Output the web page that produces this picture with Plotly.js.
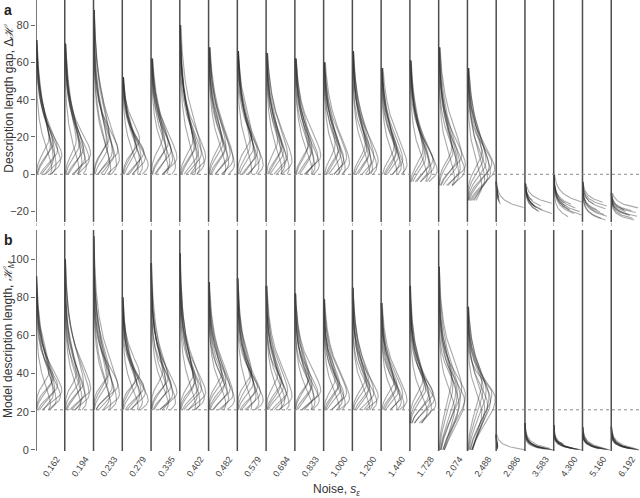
<!DOCTYPE html>
<html>
<head>
<meta charset="utf-8">
<script src="https://cdn.plot.ly/plotly-3.0.1.min.js"></script>
<style>
  body { margin: 0; background: #fff; }
  #chart { width: 640px; height: 498px; }
</style>
</head>
<body>
<div id="chart"></div>
<script>
var noise = ["0.162", "0.194", "0.233", "0.279", "0.335", "0.402", "0.482", "0.579", "0.694", "0.833", "1.000",
  "1.200", "1.440", "1.728", "2.074", "2.488", "2.986", "3.583", "4.300", "5.160", "6.192"];

// panel a - description length gap, one density curve per run
// lo/hi: value range of the curves, left: lower spread (0 = curve cut at its mode)
// modes: where each curve peaks, peaks: its width (in column widths), reach: where it falls to 10%
var gapLo = [0, 0, 0, 0, 0, 0, 0, 0, 0, 0, 0, 0, 0, -4, -6, -14, 0, 0, 0, 0, 0];
var gapHi = [72, 70, 88, 52, 62, 80, 68, 66, 65, 62, 60, 66, 57, 61, 68, 57, -4, -5, 0, -4, -10];
var gapLeft = [7, 7, 7, 7, 7, 7, 7, 7, 7, 7, 7, 7, 7, 7, 7, 8, 0, 0, 0, 0, 0];
var gapModes = [
  [3, 5, 7, 8, 10, 11, 13, 15, 17, 19],
  [2, 4, 6, 8, 9, 11, 12, 14, 16, 18],
  [3, 5, 6, 8, 10, 12, 13, 15, 18, 20],
  [2, 4, 5, 7, 9, 10, 12, 14, 16, 19],
  [3, 4, 6, 8, 9, 11, 13, 15, 17, 20],
  [2, 4, 6, 7, 9, 11, 12, 14, 16, 18],
  [3, 5, 6, 8, 10, 11, 13, 15, 17, 19],
  [2, 4, 5, 7, 9, 10, 12, 14, 16, 21],
  [2, 3, 5, 7, 8, 10, 12, 13, 15, 18],
  [2, 4, 5, 7, 9, 10, 11, 13, 15, 17],
  [1, 3, 5, 6, 8, 9, 11, 12, 14, 16],
  [1, 3, 4, 6, 7, 9, 10, 12, 14, 16],
  [1, 2, 4, 5, 7, 8, 10, 11, 13, 15],
  [-1, 1, 2, 4, 5, 6, 8, 9, 11, 13],
  [-2, 0, 2, 3, 5, 6, 8, 10, 12, 14],
  [-6, -3, -1, 1, 3, 4, 6, 7, 9, 12],
  [-17.8, -14, -12, -10, -13, -11, -15, -9, -12.5, -16],
  [-15.5, -21, -17, -19, -18, -20, -16.5, -19.5, -17.5, -14],
  [-14.8, -16, -18, -20, -21.8, -22.7, -17, -19, -15.5, -21],
  [-15, -17, -18.5, -20, -21.5, -22.5, -24.5, -19, -23.5, -16],
  [-18, -19.5, -20.5, -21.5, -22.5, -23.5, -24.5, -20, -22, -19]
];
var gapPeaks = [
  [0.55, 0.7, 0.85, 0.6, 0.9, 0.65, 0.75, 0.5, 0.6, 0.45],
  [0.5, 0.75, 0.6, 0.85, 0.7, 0.9, 0.55, 0.65, 0.5, 0.4],
  [0.6, 0.8, 0.55, 0.9, 0.7, 0.65, 0.85, 0.5, 0.45, 0.55],
  [0.55, 0.7, 0.9, 0.6, 0.8, 0.65, 0.75, 0.5, 0.45, 0.6],
  [0.6, 0.85, 0.65, 0.75, 0.9, 0.55, 0.7, 0.5, 0.6, 0.4],
  [0.55, 0.7, 0.85, 0.6, 0.9, 0.75, 0.65, 0.5, 0.55, 0.45],
  [0.6, 0.9, 0.7, 0.85, 0.65, 0.75, 0.55, 0.6, 0.5, 0.45],
  [0.5, 0.75, 0.9, 0.65, 0.8, 0.6, 0.7, 0.55, 0.45, 0.5],
  [0.55, 0.8, 0.65, 0.9, 0.7, 0.75, 0.6, 0.5, 0.55, 0.4],
  [0.6, 0.7, 0.85, 0.65, 0.8, 0.9, 0.55, 0.6, 0.45, 0.5],
  [0.55, 0.75, 0.65, 0.9, 0.7, 0.8, 0.6, 0.5, 0.55, 0.4],
  [0.6, 0.7, 0.85, 0.65, 0.9, 0.75, 0.55, 0.6, 0.5, 0.45],
  [0.55, 0.8, 0.7, 0.9, 0.65, 0.75, 0.6, 0.5, 0.55, 0.45],
  [0.6, 0.75, 0.95, 0.7, 0.85, 0.65, 0.8, 0.55, 0.5, 0.45],
  [0.55, 0.7, 0.9, 0.75, 0.93, 0.65, 0.6, 0.8, 0.5, 0.45],
  [0.5, 0.6, 0.7, 0.8, 0.95, 0.75, 0.85, 0.65, 0.55, 0.5],
  [0.95, 0.1, 0.08, 0.06, 0.1, 0.07, 0.12, 0.05, 0.09, 0.15],
  [0.93, 0.93, 0.55, 0.6, 0.4, 0.5, 0.3, 0.45, 0.35, 0.25],
  [0.97, 0.6, 0.75, 0.9, 0.97, 0.5, 0.4, 0.55, 0.35, 0.7],
  [0.7, 0.85, 0.8, 0.6, 0.75, 0.85, 0.8, 0.5, 0.65, 0.4],
  [0.93, 0.7, 0.85, 0.6, 0.9, 0.75, 0.8, 0.5, 0.65, 0.45]
];
var gapReach = [
  [38, 55, 48, 62, 45, 58, 52, 66, 50, 60],
  [40, 52, 60, 45, 56, 48, 64, 50, 58, 55],
  [45, 58, 50, 66, 54, 70, 48, 62, 60, 75],
  [34, 42, 38, 48, 40, 45, 36, 50, 44, 46],
  [40, 52, 46, 58, 50, 55, 44, 60, 48, 56],
  [44, 56, 50, 64, 52, 68, 48, 60, 58, 62],
  [42, 54, 48, 60, 50, 57, 46, 62, 52, 58],
  [40, 52, 46, 58, 50, 56, 44, 60, 54, 62],
  [40, 50, 46, 56, 48, 58, 44, 60, 52, 55],
  [38, 50, 44, 55, 47, 52, 42, 58, 50, 54],
  [36, 48, 42, 54, 45, 50, 40, 56, 48, 52],
  [38, 50, 44, 57, 47, 55, 42, 60, 52, 54],
  [35, 46, 40, 52, 44, 48, 38, 54, 46, 50],
  [34, 46, 40, 54, 44, 50, 38, 55, 48, 52],
  [36, 50, 42, 58, 46, 55, 40, 60, 52, 56],
  [30, 42, 36, 50, 40, 46, 34, 52, 44, 48],
  [-10, -8, -6, -5, -7, -6, -9, -5, -7, -9],
  [-8, -12, -9, -11, -10, -12, -8, -11, -9, -7],
  [-5, -8, -9, -11, -12, -14, -8, -10, -6, -12],
  [-8, -10, -11, -13, -14, -15, -17, -12, -16, -9],
  [-12, -14, -15, -16, -17, -18, -19, -15, -17, -14]
];

// panel b - model description length
var modelLo = [21, 21, 21, 21, 21, 21, 21, 21, 21, 21, 21, 21, 21, 14, 0, 0, 0, 0, 0, 0, 0];
var modelHi = [91, 100, 112, 80, 98, 103, 88, 90, 86, 82, 79, 85, 77, 86, 96, 75, 8, 14, 13, 12, 12];
var modelLeft = [6, 6, 6, 6, 6, 6, 6, 6, 6, 6, 6, 6, 6, 7, 15, 14, 0, 0, 0, 0, 0];
var modelModes = [
  [24, 26, 28, 29, 31, 32, 34, 36, 38, 41],
  [24, 25, 27, 29, 30, 32, 33, 35, 37, 40],
  [24, 26, 27, 29, 31, 33, 34, 36, 38, 41],
  [23, 25, 26, 28, 30, 31, 33, 35, 37, 40],
  [24, 25, 27, 29, 30, 32, 34, 36, 38, 41],
  [23, 25, 27, 28, 30, 32, 33, 35, 37, 39],
  [24, 26, 27, 29, 31, 32, 34, 36, 38, 40],
  [23, 25, 26, 28, 30, 31, 33, 35, 37, 41],
  [23, 24, 26, 28, 29, 31, 33, 34, 36, 39],
  [23, 25, 26, 28, 30, 31, 32, 34, 36, 38],
  [22, 24, 26, 27, 29, 30, 32, 33, 35, 37],
  [22, 24, 25, 27, 28, 30, 31, 33, 35, 37],
  [22, 23, 25, 26, 28, 29, 31, 32, 34, 36],
  [20, 22, 24, 26, 27, 29, 30, 32, 34, 37],
  [22, 24, 26, 27, 29, 30, 32, 33, 35, 38],
  [20, 22, 24, 26, 27, 28, 30, 31, 33, 36],
  [0, 0.5, 1, 1.5, 2, 0.8, 1.2, 0.3, 2.5, 1.8],
  [0, 0.2, 0.4, 0.6, 0.8, 1, 0.3, 0.5, 0.1, 0.7],
  [0, 0.2, 0.4, 0.6, 3, 0.8, 0.3, 3.5, 0.1, 0.5],
  [0, 0.2, 0.4, 0.6, 0.8, 3, 0.3, 0.5, 0.1, 0.7],
  [0, 0.2, 0.4, 0.6, 0.8, 1, 0.3, 0.5, 0.1, 0.7]
];
var modelPeaks = [
  [0.5, 0.7, 0.85, 0.6, 0.9, 0.65, 0.75, 0.55, 0.6, 0.45],
  [0.55, 0.75, 0.6, 0.85, 0.7, 0.9, 0.55, 0.65, 0.5, 0.4],
  [0.6, 0.8, 0.55, 0.9, 0.7, 0.65, 0.85, 0.5, 0.45, 0.55],
  [0.55, 0.7, 0.9, 0.6, 0.8, 0.65, 0.75, 0.5, 0.45, 0.6],
  [0.6, 0.85, 0.65, 0.75, 0.9, 0.55, 0.7, 0.5, 0.6, 0.4],
  [0.55, 0.7, 0.85, 0.6, 0.9, 0.75, 0.65, 0.5, 0.55, 0.45],
  [0.6, 0.9, 0.7, 0.85, 0.65, 0.75, 0.55, 0.6, 0.5, 0.45],
  [0.5, 0.75, 0.9, 0.65, 0.8, 0.6, 0.7, 0.55, 0.45, 0.5],
  [0.55, 0.8, 0.65, 0.9, 0.7, 0.75, 0.6, 0.5, 0.55, 0.4],
  [0.6, 0.7, 0.85, 0.65, 0.8, 0.9, 0.55, 0.6, 0.45, 0.5],
  [0.55, 0.75, 0.65, 0.9, 0.7, 0.8, 0.6, 0.5, 0.55, 0.4],
  [0.6, 0.7, 0.85, 0.65, 0.9, 0.75, 0.55, 0.6, 0.5, 0.45],
  [0.55, 0.8, 0.7, 0.9, 0.65, 0.75, 0.6, 0.5, 0.55, 0.45],
  [0.6, 0.75, 0.9, 0.7, 0.85, 0.65, 0.8, 0.55, 0.5, 0.45],
  [0.55, 0.7, 0.9, 0.75, 0.93, 0.65, 0.6, 0.8, 0.5, 0.45],
  [0.5, 0.6, 0.7, 0.8, 0.97, 0.75, 0.85, 0.65, 0.55, 0.5],
  [1.0, 0.05, 0.04, 0.06, 0.05, 0.04, 0.03, 0.05, 0.04, 0.03],
  [0.97, 0.9, 0.8, 0.7, 0.85, 0.6, 0.75, 0.65, 0.95, 0.5],
  [0.97, 0.85, 0.75, 0.65, 0.35, 0.6, 0.8, 0.3, 0.9, 0.7],
  [0.95, 0.8, 0.7, 0.6, 0.75, 0.25, 0.85, 0.55, 0.9, 0.65],
  [0.97, 0.85, 0.75, 0.6, 0.8, 0.55, 0.9, 0.7, 0.95, 0.65]
];
var modelReach = [
  [55, 68, 62, 78, 65, 74, 60, 80, 70, 76],
  [58, 70, 64, 80, 66, 76, 62, 84, 72, 78],
  [60, 74, 66, 84, 70, 80, 64, 88, 76, 82],
  [52, 62, 58, 70, 60, 66, 55, 72, 64, 68],
  [56, 68, 62, 78, 66, 74, 60, 80, 70, 76],
  [58, 70, 64, 82, 68, 76, 62, 84, 72, 78],
  [56, 66, 60, 74, 64, 70, 58, 76, 68, 72],
  [55, 66, 60, 75, 64, 72, 58, 78, 68, 74],
  [54, 64, 58, 72, 62, 70, 56, 75, 66, 70],
  [52, 62, 58, 70, 60, 68, 55, 72, 64, 68],
  [50, 60, 56, 68, 58, 66, 54, 70, 62, 66],
  [52, 62, 58, 72, 60, 70, 55, 74, 66, 70],
  [50, 60, 55, 66, 58, 64, 52, 68, 62, 64],
  [50, 62, 56, 70, 60, 66, 54, 72, 64, 68],
  [52, 66, 58, 76, 62, 72, 56, 78, 68, 74],
  [48, 58, 54, 66, 56, 62, 50, 68, 60, 64],
  [5, 6, 7, 7, 8, 6, 7, 5, 8, 7],
  [4, 5, 6, 5, 7, 6, 4, 6, 5, 8],
  [4, 5, 6, 5, 6, 6, 4, 6, 5, 7],
  [4, 5, 6, 5, 7, 6, 4, 6, 5, 7],
  [4, 5, 6, 5, 7, 6, 4, 6, 5, 7]
];

var minGap = 0;       // dotted reference lines
var minModel = 21;

// one trace per run index, each trace walks through all 21 columns
function panelTraces(lo, hi, left, modes, peaks, reach, xa, ya) {
  var traces = [];
  for (var k = 0; k < modes[0].length; k++) {
    var xs = [], ys = [];
    for (var i = 0; i < noise.length; i++) {
      var m = modes[i][k], p = peaks[i][k];
      var smooth = left[i] > 0;
      // tail scale so that the curve is down to 10% of its peak at "reach"
      var theta = (reach[i][k] - m) / (smooth ? 3.89 : 2.3);
      var start = smooth ? lo[i] : m;
      var n = Math.round((hi[i] - start) / 0.25);
      for (var j = 0; j <= n; j++) {
        var v = start + j * 0.25, f;
        if (v < m) {
          f = p * Math.exp(-(m - v) * (m - v) / (2 * left[i] * left[i]));
        } else {
          var d = (v - m) / theta;
          f = p * Math.exp(-d) * (smooth ? 1 + d : 1);
        }
        xs.push(i + f);
        ys.push(v);
      }
      xs.push(null);
      ys.push(null);
    }
    traces.push({
      type: "scatter",
      mode: "lines",
      x: xs,
      y: ys,
      xaxis: xa,
      yaxis: ya,
      line: { color: "rgba(40,40,40,0.4)", width: 1.1 },
      hoverinfo: "skip",
      showlegend: false,
    });
  }
  return traces;
}

var data = panelTraces(gapLo, gapHi, gapLeft, gapModes, gapPeaks, gapReach, "x2", "y")
  .concat(panelTraces(modelLo, modelHi, modelLeft, modelModes, modelPeaks, modelReach, "x", "y2"));

var cols = noise.map(function (s, i) { return i; });

var shapes = [];
cols.forEach(function (i) {
  shapes.push({ type: "line", xref: "x", yref: "y domain", x0: i, x1: i, y0: 0, y1: 1,
    line: { color: "#4d4d4d", width: 1.5 } });
  shapes.push({ type: "line", xref: "x", yref: "y2 domain", x0: i, x1: i, y0: 0, y1: 1,
    line: { color: "#4d4d4d", width: 1.5 } });
});
shapes.push({ type: "line", xref: "x", yref: "y", x0: 0, x1: 21, y0: minGap, y1: minGap,
  line: { color: "#8a8a8a", width: 1, dash: "dot" } });
shapes.push({ type: "line", xref: "x", yref: "y2", x0: 0, x1: 21, y0: minModel, y1: minModel,
  line: { color: "#8a8a8a", width: 1, dash: "dot" } });

var layout = {
  width: 640,
  height: 498,
  margin: { l: 36, r: 0, t: 0, b: 47 },
  paper_bgcolor: "#fff",
  plot_bgcolor: "rgba(0,0,0,0)",
  font: { family: "Liberation Sans, Arial, sans-serif", color: "#333", size: 11 },
  showlegend: false,
  xaxis: {
    range: [0, 21],
    anchor: "y2",
    showgrid: false,
    zeroline: false,
    showline: false,
    tickmode: "array",
    tickvals: cols.map(function (i) { return i + 0.72; }),
    ticktext: noise,
    tickangle: -55,
    ticks: "",
    tickfont: { size: 9, color: "#444" },
  },
  xaxis2: {
    range: [0, 21],
    anchor: "y",
    showgrid: false,
    zeroline: false,
    showline: false,
    tickmode: "array",
    tickvals: cols,
    showticklabels: false,
    ticks: "outside",
    ticklen: 3,
    tickcolor: "#bbb",
  },
  yaxis: {
    domain: [0.508, 1],
    range: [-25.5, 93.4],
    anchor: "x2",
    showgrid: false,
    zeroline: false,
    showline: false,
    tickvals: [-20, 0, 20, 40, 60, 80],
    ticks: "outside",
    ticklen: 4,
    tickcolor: "#666",
    tickfont: { size: 11, color: "#444" },
  },
  yaxis2: {
    domain: [0, 0.49],
    range: [-0.6, 115.3],
    anchor: "x",
    showgrid: false,
    zeroline: false,
    showline: false,
    tickvals: [0, 20, 40, 60, 80, 100],
    ticks: "outside",
    ticklen: 4,
    tickcolor: "#666",
    tickfont: { size: 11, color: "#444" },
  },
  shapes: shapes,
  annotations: [
    { text: "<b>a</b>", xref: "paper", yref: "paper", x: -0.046, y: 0.978, xanchor: "center", yanchor: "middle",
      showarrow: false, font: { size: 14, color: "#222" } },
    { text: "<b>b</b>", xref: "paper", yref: "paper", x: -0.046, y: 0.468, xanchor: "center", yanchor: "middle",
      showarrow: false, font: { size: 14, color: "#222" } },
    { text: "Description length gap, Δ<i>ℋ</i>", xref: "paper", yref: "paper", x: -0.045, y: 0.783,
      xanchor: "center", yanchor: "middle", textangle: -90, showarrow: false, font: { size: 12, color: "#333" } },
    { text: "Model description length, <i>ℋ</i><sub><i>M</i></sub>", xref: "paper", yref: "paper",
      x: -0.045, y: 0.248, xanchor: "center", yanchor: "middle", textangle: -90, showarrow: false,
      font: { size: 12, color: "#333" } },
    { text: "Noise, <i>s</i><sub><i>ε</i></sub>", xref: "paper", yref: "paper", x: 0.497, y: -0.086,
      xanchor: "center", yanchor: "middle", showarrow: false, font: { size: 12, color: "#333" } },
  ],
};

Plotly.newPlot("chart", data, layout, { staticPlot: true });
</script>
</body>
</html>
